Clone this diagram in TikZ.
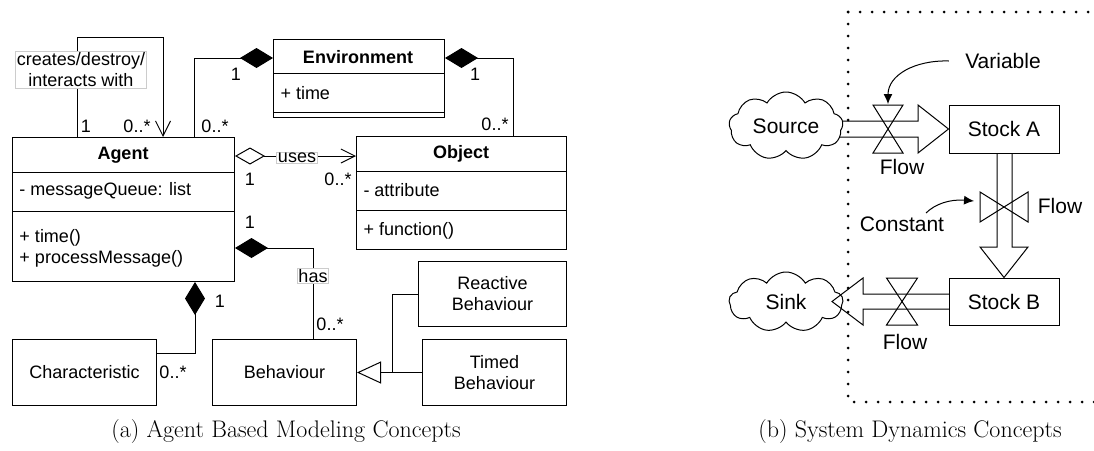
\documentclass[tikz,border=0pt]{standalone}
\usepackage{fontspec}
\newfontfamily\drawfont{Liberation Sans}
\usetikzlibrary{arrows.meta, calc, shapes.symbols}

\begin{document}
\begin{tikzpicture}[x = 1pt, y = -1pt, line width = 1pt,
		every node/.style = {font = \drawfont\fontsize{18}{21}\selectfont, inner sep = 0},
		umlbox/.style = {draw, rectangle, anchor = north west},
		member/.style = {anchor = west, align = left},
		edgetag/.style = {draw = black!20, fill = white, inner sep = 1pt, align = center},
		composite/.style = {-{Diamond[length = 33pt, width = 20pt]}},
		usesline/.style = {{Diamond[open, length = 30pt, width = 17pt]}-{Straight Barb[length = 14pt, width = 14pt]}},
		openhead/.style = {-{Straight Barb[length = 15pt, width = 15pt]}},
		inherit/.style = {-{Triangle[open, length = 24pt, width = 22pt]}},
		sdtext/.style = {font = \drawfont\fontsize{21}{25}\selectfont},
		pointer/.style = {-{Latex[length = 10pt, width = 9pt]}},
		subcap/.style = {font = \rmfamily\fontsize{24}{28}\selectfont}
	]
	\useasboundingbox (0, 0) rectangle (1094, 450);

	% class boxes
	\node [umlbox, minimum width = 222pt, minimum height = 144pt] (agent) at (12, 137) {};
	\node [umlbox, minimum width = 171pt, minimum height = 78pt] (env) at (273, 39) {};
	\node [umlbox, minimum width = 210pt, minimum height = 113pt] (obj) at (356, 136) {};
	\node [umlbox, minimum width = 144pt, minimum height = 66pt] (chr) at (12, 339) {};
	\node [umlbox, minimum width = 144pt, minimum height = 66pt] (beh) at (212, 339) {};
	\node [umlbox, minimum width = 148pt, minimum height = 65pt] (react) at (418, 261) {};
	\node [umlbox, minimum width = 144pt, minimum height = 66pt] (timed) at (422, 339) {};

	\draw ($(agent.north west) + (0, 35)$) -- ($(agent.north east) + (0, 35)$);
	\draw ($(agent.north west) + (0, 74)$) -- ($(agent.north east) + (0, 74)$);
	\draw ($(env.north west) + (0, 34)$) -- ($(env.north east) + (0, 34)$);
	\draw ($(env.north west) + (0, 73)$) -- ($(env.north east) + (0, 73)$);
	\draw ($(obj.north west) + (0, 35)$) -- ($(obj.north east) + (0, 35)$);
	\draw ($(obj.north west) + (0, 74)$) -- ($(obj.north east) + (0, 74)$);

	\node [font = \drawfont\bfseries\fontsize{18}{21}\selectfont] (agentName) at (123, 155) {Agent};
	\node [member] (agentAttr) at (19, 191) {- messageQueue: list};
	\node [member] (agentOps) at (19, 248) {+ time()\\+ processMessage()};
	\node [font = \drawfont\bfseries\fontsize{18}{21}\selectfont] (envName) at (358, 57) {Environment};
	\node [member] (envAttr) at (280, 93) {+ time};
	\node [font = \drawfont\bfseries\fontsize{18}{21}\selectfont] (objName) at (461, 154) {Object};
	\node [member] (objAttr) at (363, 190) {- attribute};
	\node [member] (objOps) at (363, 231) {+ function()};
	\node (chrName) at (chr) {Characteristic};
	\node (behName) at (beh) {Behaviour};
	\node [align = center] (reactName) at (react) {Reactive\\Behaviour};
	\node [align = center] (timedName) at (timed) {Timed\\Behaviour};

	% associations
	\coordinate (gen) at (392, 372);
	\draw [openhead] ($(agent.north west) + (65, 0)$) -- ++(0, -100) -| ($(agent.north west) + (151, 0)$);
	\draw [composite] ($(agent.north west) + (182, 0)$) |- ($(env.north west) + (0, 19)$);
	\draw [composite] ($(obj.north west) + (157, 0)$) |- ($(env.north east) + (0, 19)$);
	\draw [usesline] ($(agent.north east) + (0, 19)$) -- ($(obj.north west) + (0, 20)$);
	\draw [composite] ($(beh.north west) + (101, 0)$) |- ($(agent.north east) + (0, 111)$);
	\draw [composite] ($(chr.north east) + (0, 14)$) -| ($(agent.south west) + (183, 0)$);
	\draw [inherit] (timed.west) -- (beh.east);
	\draw (react.west) -| (gen);

	\node [edgetag] (loopTag) at (81, 70) {creates/destroy/\\interacts with};
	\node [edgetag] (usesTag) at (297, 158) {uses};
	\node [edgetag] (hasTag) at (313, 276) {has};

	\node (mLoopA) at (86, 126) {1};
	\node (mLoopB) at (137, 126) {0..*};
	\node (mEnvA) at (236, 74) {1};
	\node (mEnvB) at (215, 126) {0..*};
	\node (mObjA) at (475, 74) {1};
	\node (mObjB) at (495, 124) {0..*};
	\node (mUsesA) at (250, 179) {1};
	\node (mUsesB) at (338, 179) {0..*};
	\node (mHasA) at (250, 222) {1};
	\node (mHasB) at (330, 324) {0..*};
	\node (mChrA) at (220, 301) {1};
	\node (mChrB) at (173, 372) {0..*};

	% system dynamics
	\draw [line width = 3pt, line cap = round, dash pattern = on 0pt off 12pt] (848, 12) -- (1094, 12);
	\draw [line width = 3pt, line cap = round, dash pattern = on 0pt off 12pt] (848, 12) -- (848, 402) -- (1094, 402);

	\node [draw, minimum width = 110pt, minimum height = 48pt, sdtext] (stockA) at (1004, 129) {Stock A};
	\node [draw, minimum width = 110pt, minimum height = 47pt, sdtext] (stockB) at (1004, 301.5) {Stock B};
	\coordinate (valveA) at (888, 129);
	\coordinate (valveB) at (1004, 207);
	\coordinate (valveC) at (902, 301.5);

	\draw (836, 121) -- (918, 121) -- (918, 105) -- (stockA.west) -- (918, 153) -- (918, 137) -- (836, 137);
	\draw (997, 153) -- (997, 247) -- (980, 247) -- (stockB.north) -- (1028, 247) -- (1012, 247) -- (1012, 153);
	\draw (valveA) -- ++(-15, -24) -- ++(30, 0) -- cycle (valveA) -- ++(-15, 24) -- ++(30, 0) -- cycle;
	\draw (valveB) -- ++(-24, -15) -- ++(0, 30) -- cycle (valveB) -- ++(24, -15) -- ++(0, 30) -- cycle;

	\node [cloud, draw, fill = white, cloud puffs = 9, cloud puff arc = 120, aspect = 2, minimum width = 114pt, minimum height = 68pt, sdtext] (source) at (786, 126) {Source};
	\node [cloud, draw, fill = white, cloud puffs = 9, cloud puff arc = 120, aspect = 2, minimum width = 114pt, minimum height = 60pt, sdtext] (sink) at (786, 302) {Sink};

	\draw (949, 294) -- (863, 294) -- (863, 278) -- (832, 301.5) -- (863, 325) -- (863, 309) -- (949, 309);
	\draw (valveC) -- ++(-15.5, -23.5) -- ++(31, 0) -- cycle (valveC) -- ++(-15.5, 23.5) -- ++(31, 0) -- cycle;

	\node [sdtext] (flowA) at (902, 167) {Flow};
	\node [sdtext] (flowB) at (1060, 206) {Flow};
	\node [sdtext] (flowC) at (905, 342) {Flow};
	\node [sdtext] (variable) at (1003, 61) {Variable};
	\node [sdtext] (constant) at (902, 224) {Constant};

	\draw [pointer] ([xshift = -16pt] variable.west) .. controls (915, 60) and (888, 75) .. ([yshift = 25pt] valveA);
	\draw [pointer] ([xshift = 24pt, yshift = 11pt] constant.center) .. controls (935, 204) and (950, 199) .. (974, 201);

	\node [subcap] (capA) at (286, 432) {(a) Agent Based Modeling Concepts};
	\node [subcap] (capB) at (910, 432) {(b) System Dynamics Concepts};
\end{tikzpicture}
\end{document}
